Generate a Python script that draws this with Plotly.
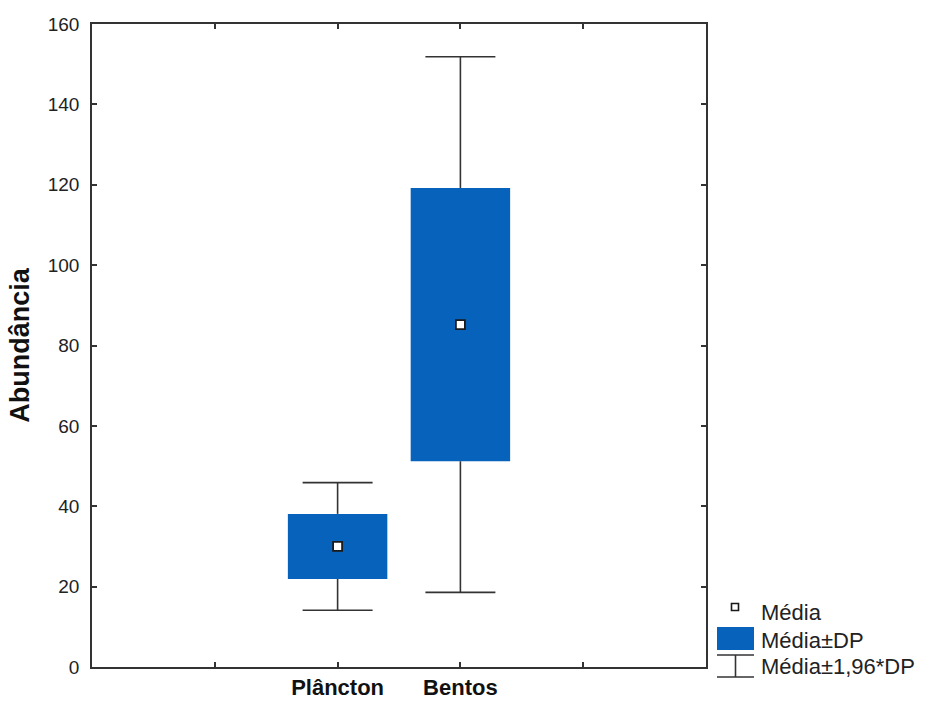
import plotly.graph_objects as go

# Grupos e estatísticas de abundância
categorias = ["Plâncton", "Bentos"]
posicoes = [2, 3]
media = [30.0, 85.2]
dp = [8.1, 34.0]
fator_ic = 1.96

tick_pos = [1, 2, 3, 4]
tick_txt = ["", "<b>Plâncton</b>", "<b>Bentos</b>", ""]
y_ticks = [0, 20, 40, 60, 80, 100, 120, 140, 160]

AZUL = "#0762BC"
ESCURO = "#333333"
FONTE = "Liberation Sans, Arial, sans-serif"

# geometria do gráfico em pixels (para posicionar a legenda manual)
W, H = 936, 701
ML, MR, MT, MB = 92, 230, 24, 34
PW, PH = W - ML - MR, H - MT - MB


def px(x):
    return (x - ML) / PW


def py(y):
    return (H - MB - y) / PH


fig = go.Figure()

# caixas: média ± DP
fig.add_trace(go.Bar(
    x=posicoes,
    y=[2 * s for s in dp],
    base=[m - s for m, s in zip(media, dp)],
    width=0.81,
    marker=dict(color=AZUL, line=dict(width=0)),
    showlegend=False,
    hoverinfo="skip",
))

# bigodes: média ± 1,96*DP (apenas fora da caixa)
cap = 0.285
wx, wy = [], []
for x, m, s in zip(posicoes, media, dp):
    for sinal in (1, -1):
        borda = m + sinal * s
        ponta = m + sinal * fator_ic * s
        wx += [x, x, None, x - cap, x + cap, None]
        wy += [borda, ponta, None, ponta, ponta, None]
fig.add_trace(go.Scatter(
    x=wx, y=wy, mode="lines",
    line=dict(color=ESCURO, width=1.6),
    showlegend=False, hoverinfo="skip",
))

# média
fig.add_trace(go.Scatter(
    x=posicoes, y=media, mode="markers",
    marker=dict(symbol="square", size=9, color="white",
                line=dict(color="#1a1a1a", width=1.8)),
    showlegend=False,
))

# legenda desenhada à mão
shapes = [
    dict(type="rect", xref="paper", yref="paper",
         x0=px(731.5), x1=px(738.5), y0=py(610.5), y1=py(603.5),
         fillcolor="white", line=dict(color="#1a1a1a", width=1.6)),
    dict(type="rect", xref="paper", yref="paper",
         x0=px(717), x1=px(754), y0=py(650), y1=py(627),
         fillcolor=AZUL, line=dict(width=0)),
    dict(type="line", xref="paper", yref="paper",
         x0=px(717), x1=px(754), y0=py(655), y1=py(655),
         line=dict(color=ESCURO, width=1.6)),
    dict(type="line", xref="paper", yref="paper",
         x0=px(717), x1=px(754), y0=py(677), y1=py(677),
         line=dict(color=ESCURO, width=1.6)),
    dict(type="line", xref="paper", yref="paper",
         x0=px(735.5), x1=px(735.5), y0=py(655), y1=py(677),
         line=dict(color=ESCURO, width=1.6)),
]
rotulos = [("Média", 612), ("Média±DP", 640), ("Média±1,96*DP", 666)]
annotations = [
    dict(text=t, xref="paper", yref="paper", x=px(759), y=py(yc),
         xanchor="left", yanchor="middle", showarrow=False,
         font=dict(family=FONTE, size=22, color="#222222"))
    for t, yc in rotulos
]

fig.update_layout(
    template="none",
    width=W, height=H,
    margin=dict(l=ML, r=MR, t=MT, b=MB, pad=0),
    paper_bgcolor="white", plot_bgcolor="white",
    showlegend=False,
    shapes=shapes,
    annotations=annotations,
    font=dict(family=FONTE, color="#222222"),
    xaxis=dict(
        range=[0, 5], tickmode="array", tickvals=tick_pos, ticktext=tick_txt,
        ticks="inside", ticklen=5, tickwidth=1.5, tickcolor=ESCURO,
        showline=True, linecolor=ESCURO, linewidth=1.6, mirror="ticks",
        showgrid=False, zeroline=False, automargin=False,
        tickfont=dict(family=FONTE, size=22, color="#111111"),
        ticklabelstandoff=0,
    ),
    yaxis=dict(
        range=[0, 160], tickmode="array", tickvals=y_ticks,
        ticks="inside", ticklen=5, tickwidth=1.5, tickcolor=ESCURO,
        showline=True, linecolor=ESCURO, linewidth=1.6, mirror="ticks",
        showgrid=False, zeroline=False, automargin=False,
        tickfont=dict(family=FONTE, size=19, color="#222222"),
        ticklabelstandoff=7,
        title=dict(text="<b>Abundância</b>", standoff=10,
                   font=dict(family=FONTE, size=27, color="#111111")),
    ),
)

fig.write_html("out.html")
